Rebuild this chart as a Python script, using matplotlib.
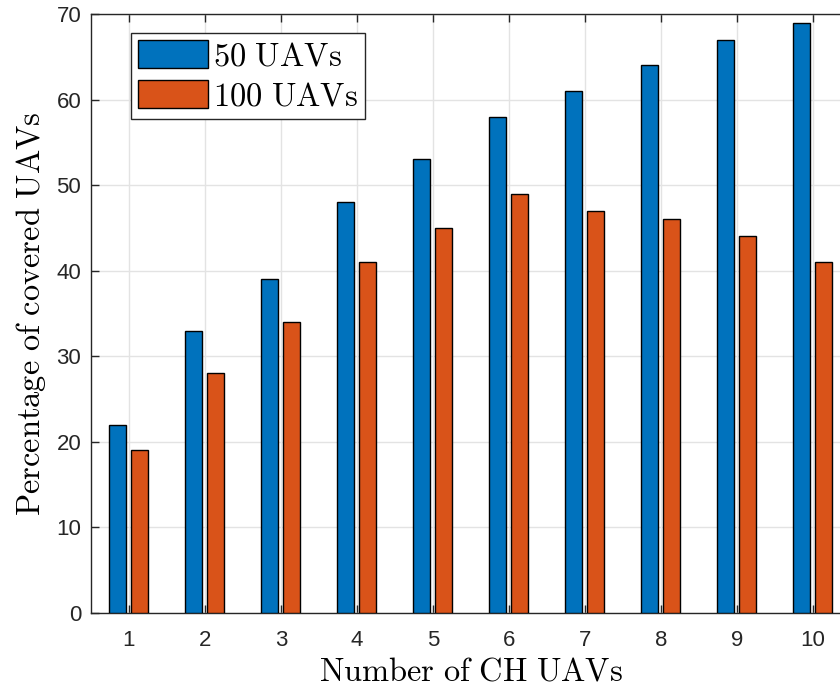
import matplotlib.pyplot as plt
import numpy as np

plt.rcParams['mathtext.fontset'] = 'cm'

ch_uavs = [1, 2, 3, 4, 5, 6, 7, 8, 9, 10]
uav50 = [22, 33, 39, 48, 53, 58, 61, 64, 67, 69]
uav100 = [19, 28, 34, 41, 45, 49, 47, 46, 44, 41]

fig = plt.figure(figsize=(8.4, 6.87), dpi=100)
# axes runs past the right edge of the figure, like the cropped original
ax = fig.add_axes([91 / 840, 1 - 613 / 687, 760 / 840, 599 / 687])

x = np.array(ch_uavs)
w = 0.23
ax.bar(x - 0.148, uav50, w, color='#0072BD', edgecolor='black', linewidth=1.0,
       label=r'$\mathrm{50\ UAVs}$', zorder=3)
ax.bar(x + 0.138, uav100, w, color='#D95319', edgecolor='black', linewidth=1.0,
       label=r'$\mathrm{100\ UAVs}$', zorder=3)

ax.set_xlim(0.5, 10.5)
ax.set_ylim(0, 70)
ax.set_xticks(ch_uavs)
ax.set_yticks(range(0, 71, 10))
ax.grid(True, color='#e3e3e3', linewidth=1.0, zorder=0)
ax.tick_params(direction='in', top=True, right=True, length=6, width=1,
               color='#262626', labelsize=16)
ax.tick_params(axis='x', pad=12)
ax.tick_params(axis='y', pad=7)
for lab in ax.get_xticklabels() + ax.get_yticklabels():
    lab.set_family('Liberation Sans')
    lab.set_color('#262626')
for s in ax.spines.values():
    s.set_color('#262626')
    s.set_linewidth(1.0)

ax.set_xlabel(r'$\mathrm{Number\ of\ CH\ UAVs}$', fontsize=23.4, labelpad=4)
ax.set_ylabel(r'$\mathrm{Percentage\ of\ covered\ UAVs}$', fontsize=23.4, labelpad=6)

leg = ax.legend(loc='upper left', bbox_to_anchor=(40 / 760, 1 - 19 / 599), fontsize=23.4,
                fancybox=False, framealpha=1, edgecolor='#262626',
                handlelength=2.15, handleheight=0.95, handletextpad=0.15,
                borderpad=0.22, labelspacing=0.24, borderaxespad=0)
leg.get_frame().set_linewidth(1.0)

fig.savefig('out.png', dpi=100)
